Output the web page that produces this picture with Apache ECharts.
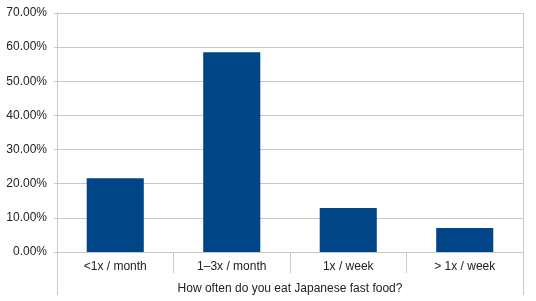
<!DOCTYPE html>
<html>
<head>
<meta charset="utf-8">
<script src="https://cdn.jsdelivr.net/npm/echarts@6/dist/echarts.min.js"></script>
<style>html,body{margin:0;padding:0;background:#fff}#c{width:536px;height:301px}</style>
</head>
<body>
<div id="c"></div>
<script>
var categories = ['<1x / month', '1\u20133x / month', '1x / week', '> 1x / week'];
var values = [21.6, 58.5, 12.9, 7.0];
var yTicks = [0, 10, 20, 30, 40, 50, 60, 70];
var xTitle = 'How often do you eat Japanese fast food?';

var lineColor = '#c8c8c8';
var textColor = '#222222';
var font = '"Liberation Sans", Arial, sans-serif';

var chart = echarts.init(document.getElementById('c'), null, {renderer: 'canvas'});
var gl = 57, gr = 13, gt = 13, gb = 49;
var W = 536, H = 301;
chart.setOption({
  animation: false,
  backgroundColor: '#ffffff',
  grid: {left: gl, right: gr, top: gt, bottom: gb, containLabel: false, outerBoundsMode: 'none', show: false},
  xAxis: {
    type: 'category',
    data: categories,
    boundaryGap: true,
    name: xTitle,
    nameLocation: 'middle',
    nameGap: 31,
    nameTextStyle: {color: textColor, fontSize: 12, fontFamily: font},
    axisLine: {show: true, lineStyle: {color: lineColor, width: 1}},
    axisTick: {show: true, length: 21, alignWithLabel: false, lineStyle: {color: lineColor, width: 1}},
    axisLabel: {color: textColor, fontSize: 12, fontFamily: font, margin: 9},
    splitLine: {show: false}
  },
  yAxis: {
    type: 'value',
    min: yTicks[0],
    max: yTicks[yTicks.length - 1],
    interval: yTicks[1] - yTicks[0],
    axisLine: {show: true, lineStyle: {color: lineColor, width: 1}},
    axisTick: {show: true, length: 3, lineStyle: {color: lineColor}},
    axisLabel: {color: textColor, fontSize: 12, fontFamily: font, margin: 10,
      formatter: function (v) { return v.toFixed(2) + '%'; }},
    splitLine: {show: true, lineStyle: {color: lineColor, width: 1}}
  },
  series: [{
    type: 'bar',
    data: values,
    barWidth: '49%',
    itemStyle: {color: '#004586'}
  }],
  graphic: [
    {type: 'line', shape: {x1: gl + 0.5, y1: gt, x2: gl + 0.5, y2: H - 6}, style: {stroke: lineColor, lineWidth: 1}},
    {type: 'line', shape: {x1: W - gr + 0.5, y1: gt, x2: W - gr + 0.5, y2: H - 6}, style: {stroke: lineColor, lineWidth: 1}}
  ]
});
</script>
</body>
</html>
